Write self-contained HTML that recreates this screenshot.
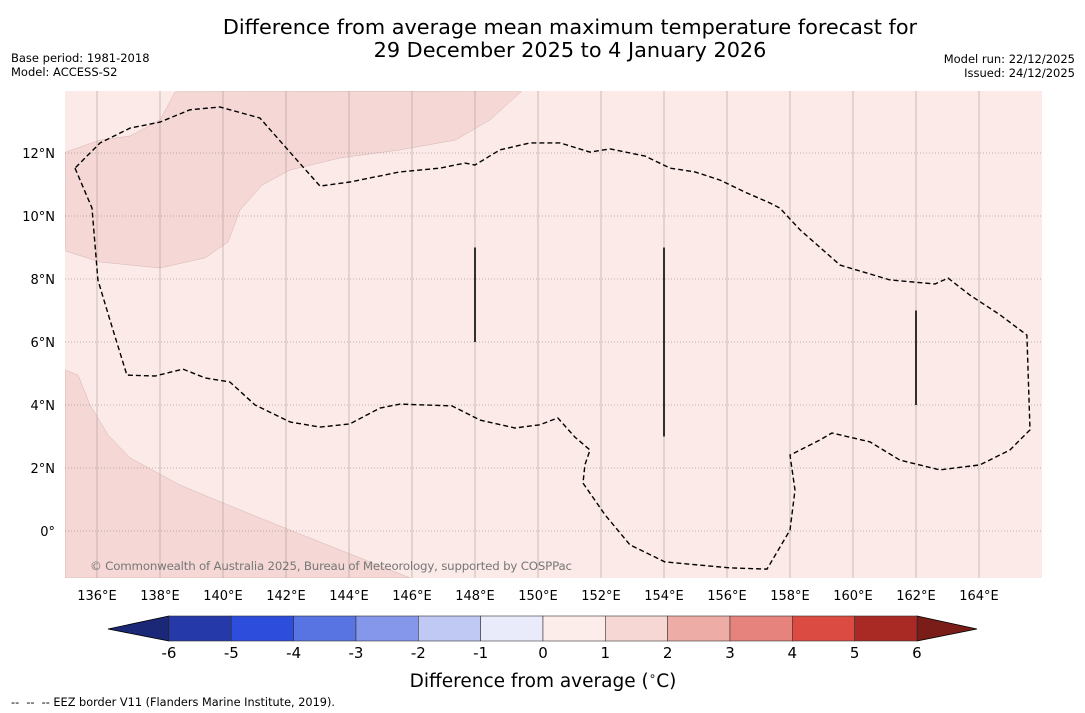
<!DOCTYPE html>
<html><head><meta charset="utf-8"><style>
body{margin:0;background:#fff;font-family:"DejaVu Sans","Liberation Sans",sans-serif;}
svg{display:block}
</style></head><body>
<svg id="s" width="1085" height="713" xmlns="http://www.w3.org/2000/svg">
<text x="570" y="34" font-size="20.8" text-anchor="middle">Difference from average mean maximum temperature forecast for</text>
<text x="570" y="57" font-size="20.8" text-anchor="middle">29 December 2025 to 4 January 2026</text>
<text x="11" y="62" font-size="11.5">Base period: 1981-2018</text>
<text x="11" y="76" font-size="11.5">Model: ACCESS-S2</text>
<text x="1075" y="63" font-size="11.5" text-anchor="end">Model run: 22/12/2025</text>
<text x="1075" y="77" font-size="11.5" text-anchor="end">Issued: 24/12/2025</text>
<defs><clipPath id="cp"><rect x="65" y="91" width="977" height="487"/></clipPath></defs>
<rect x="65" y="91" width="977" height="487" fill="#fbeae8"/>
<g id="map" clip-path="url(#cp)"></g>
<g id="cb"></g>
<text x="543" y="687" font-size="18.5" text-anchor="middle">Difference from average (<tspan font-size="12" dy="-7">∘</tspan><tspan dy="7">C)</tspan></text>
<text x="11" y="706" font-size="11.3" xml:space="preserve">--  --  -- EEZ border V11 (Flanders Marine Institute, 2019).</text>
</svg>
<script>
const NS="http://www.w3.org/2000/svg";
const lonTicks=[136,138,140,142,144,146,148,150,152,154,156,158,160,162,164];
const latTicks=[0,2,4,6,8,10,12];
const region1Lon=[135,136.1,137.05,138,138.48,149.49,148.48,147.37,145.62,143.71,142.13,141.24,140.54,140.16,139.43,138,136.1,135];
const region1Lat=[12.03,12.41,12.54,13.05,13.94,13.97,13.05,12.41,12.1,11.84,11.46,10.98,10.19,9.17,8.67,8.35,8.54,8.89];
const region2Lon=[135,135.4,135.78,136.35,137.05,138.63,140.54,142.13,143.71,145.94,135];
const region2Lat=[5.11,4.95,4,3.05,2.32,1.46,0.67,0.03,-0.6,-1.49,-1.49];
const eezLon=[135.3,135.84,136.03,136.41,136.95,137.84,138.73,139.43,140.22,141.02,142.13,143.08,144.03,144.98,145.62,147.27,148.16,149.27,150.06,150.63,151.17,151.65,151.49,151.43,152.13,152.92,154.03,156.1,157.27,158,158.16,158,158.32,158.95,159.33,160.54,161.49,162.76,164.03,164.98,165.62,165.52,164.67,163.71,163.02,162.6,161.17,159.59,158.32,157.68,157.37,156.57,155.78,154.98,154.19,153.4,152.29,151.65,150.7,149.75,148.79,148,147.68,146.89,145.62,144.03,143.08,142.29,141.17,139.9,138.95,138,137.05,136.1,135.3];
const eezLat=[11.52,10.25,7.97,6.7,4.95,4.92,5.14,4.86,4.73,4,3.46,3.3,3.4,3.9,4.03,3.97,3.52,3.27,3.37,3.59,2.98,2.57,2.1,1.52,0.51,-0.44,-0.98,-1.17,-1.21,0.03,1.3,2.41,2.57,2.89,3.11,2.83,2.25,1.94,2.1,2.57,3.21,6.22,6.86,7.49,8.03,7.84,7.97,8.44,9.56,10.25,10.41,10.76,11.14,11.4,11.52,11.9,12.13,12.03,12.32,12.32,12.1,11.62,11.68,11.52,11.4,11.08,10.95,11.84,13.11,13.46,13.37,12.98,12.79,12.32,11.52];
const segLon=[148,154,162];const segLat1=[9,9,7];const segLat2=[6,3,4];
const cbLevels=[-6,-5,-4,-3,-2,-1,0,1,2,3,4,5,6];
const cbColors=["#2639a8","#2d4ddd","#5873e2","#8497ea","#c0c8f4","#e9ebfa","#fcecea","#f6d7d4","#eeaca7","#e6837c","#dc4b42","#a92a24"];
const X=lon=>97+(lon-136)*31.5, Y=lat=>531-lat*31.5;
const map=document.getElementById('map');
function mk(tag,a,parent){const e=document.createElementNS(NS,tag);for(const k in a)e.setAttribute(k,a[k]);(parent||map).appendChild(e);return e;}
function pts(lo,la){return lo.map((v,i)=>X(v).toFixed(1)+','+Y(la[i]).toFixed(1)).join(' ');}
let p=mk('polygon',{points:pts(region1Lon,region1Lat),fill:'#f5d8d5',stroke:'#caa',"stroke-width":0.4});


p=mk('polygon',{points:pts(region2Lon,region2Lat),fill:'#f5d8d5',stroke:'#caa',"stroke-width":0.4});


const svg=document.getElementById('s');
lonTicks.forEach(l=>{
 const ln=mk('line',{x1:X(l),x2:X(l),y1:91,y2:578,stroke:'#a99',"stroke-width":0.6});
 
 
 const t=mk('text',{x:X(l),y:600,"font-size":13,"text-anchor":"middle"},svg);t.textContent=l+'°E';
 
 
});
latTicks.forEach(l=>{
 const ln=mk('line',{x1:65,x2:1042,y1:Y(l),y2:Y(l),stroke:'#777',"stroke-width":0.6,"stroke-dasharray":"1,2"});
 
 
 const t=mk('text',{x:55,y:Y(l)+5,"font-size":13,"text-anchor":"end"},svg);t.textContent=l===0?'0°':l+'°N';
 
 
});
p=mk('polyline',{points:pts(eezLon,eezLat),fill:'none',stroke:'#000',"stroke-width":1.4,"stroke-dasharray":"5,3"});


segLon.forEach((l,i)=>{const s=mk('line',{x1:X(l),x2:X(l),y1:Y(segLat1[i]),y2:Y(segLat2[i]),stroke:'#000',"stroke-width":1.6});
 
 });
let c=mk('text',{x:90,y:570,"font-size":11.8,fill:'#777'});c.textContent='© Commonwealth of Australia 2025, Bureau of Meteorology, supported by COSPPac';
c.setAttribute('textLength','482');


// colorbar
const cb=document.getElementById('cb');
const CX=v=>169+(v+6)*62.33;
let tri=mk('polygon',{points:`108,629 ${CX(-6)},616 ${CX(-6)},641`,fill:'#1b2878',stroke:'#000',"stroke-width":0.8},cb);


tri=mk('polygon',{points:`977,629 ${CX(6)},616 ${CX(6)},641`,fill:'#7a1d18',stroke:'#000',"stroke-width":0.8},cb);


cbColors.forEach((col,i)=>{const r=mk('rect',{x:CX(cbLevels[i]),y:616,width:CX(cbLevels[i+1])-CX(cbLevels[i]),height:25,fill:col,stroke:'#333',"stroke-width":0.6},cb);
 
 });
cbLevels.forEach(v=>{const t=mk('text',{x:CX(v),y:658,"font-size":15,"text-anchor":"middle"},cb);t.textContent=v;
 
 });
</script>
</body></html>
